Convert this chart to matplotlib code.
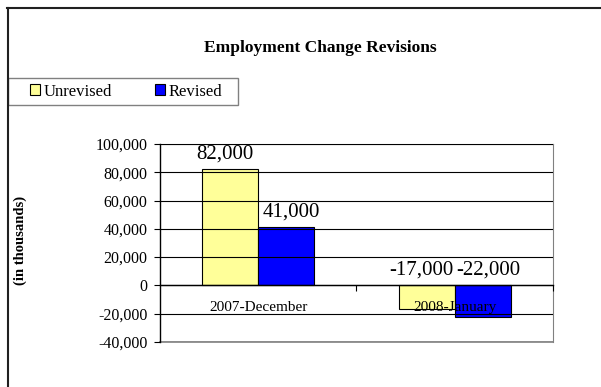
import numpy as np
import matplotlib.pyplot as plt
from matplotlib.lines import Line2D
from matplotlib.patches import Patch, Rectangle
from matplotlib.ticker import FuncFormatter, FixedLocator

categories = ["2007-December", "2008-January"]
unrevised = [82000, -17000]
revised = [41000, -22000]
series_names = ["Unrevised", "Revised"]
colors = ["#ffff99", "#0000ff"]

plt.rcParams['font.family'] = ['Liberation Serif', 'DejaVu Serif']

fig = plt.figure(figsize=(6.01, 3.87), dpi=100)
ax = fig.add_axes([0.2662, 0.1163, 0.9201 - 0.2662, 0.6279 - 0.1163])

x = np.arange(len(categories))
w = 0.285
b1 = ax.bar(x - w / 2, unrevised, w, color=colors[0], edgecolor="black", linewidth=0.8, zorder=1)
b2 = ax.bar(x + w / 2, revised, w, color=colors[1], edgecolor="black", linewidth=0.8, zorder=1)

# value labels sit above the bar, or just above zero for the negative ones;
# each series is nudged sideways so the pair doesn't collide
for bars, vals, dx in ((b1, unrevised, -4), (b2, revised, 4)):
    for rect, v in zip(bars, vals):
        ax.annotate(f"{v:,}", (rect.get_x() + rect.get_width() / 2, max(v, 0)),
                    xytext=(dx, 4), textcoords="offset points",
                    ha="center", va="bottom", fontsize=15, zorder=3)

ax.set_xlim(-0.5, 1.5)
ax.set_ylim(-40000, 100000)
ax.set_yticks(np.arange(-40000, 100001, 20000))
ax.yaxis.set_major_formatter(FuncFormatter(lambda v, p: f"{int(v):,}"))
ax.tick_params(axis="y", labelsize=11.5, length=4, width=0.8, pad=5)
ax.grid(axis="y", color="black", linewidth=0.8, zorder=0)
ax.set_axisbelow(False)

# category axis runs along zero
ax.spines["bottom"].set_position(("data", 0))
ax.spines["bottom"].set_linewidth(1.0)
ax.set_xticks(x)
ax.set_xticklabels(categories, fontsize=11)
ax.tick_params(axis="x", which="major", length=0, pad=11)
ax.xaxis.set_minor_locator(FixedLocator([0.5, 1.5]))
ax.tick_params(axis="x", which="minor", length=4, width=0.8, direction="out")
ax.spines["top"].set_color("#808080")
ax.spines["right"].set_color("#808080")
ax.spines["left"].set_linewidth(1.0)
ax.axhline(-40000, color="#808080", linewidth=1.2, clip_on=False)

fig.text(320 / 601, 1 - 48 / 387, "Employment Change Revisions",
         ha="center", va="center", fontsize=12.5, fontweight="bold")
fig.text(20 / 601, 1 - 240 / 387, "(in thousands)", rotation=90,
         ha="center", va="center", fontsize=10.5, fontweight="bold")

# legend box
fig.add_artist(Rectangle((8 / 601, 1 - 105 / 387), 230 / 601, 27 / 387,
                         transform=fig.transFigure, facecolor="white",
                         edgecolor="#808080", linewidth=1.0))
handles = [Patch(facecolor=c, edgecolor="black", linewidth=0.8) for c in colors]
fig.legend(handles, series_names, loc="center left", ncol=2,
           bbox_to_anchor=(30 / 601, 1 - 91.5 / 387),
           fontsize=12, handlelength=0.6, handleheight=0.6, handletextpad=0.2,
           borderaxespad=0, borderpad=0, frameon=False, columnspacing=2.6)

# outer chart frame
fig.add_artist(Line2D([7.5 / 601, 7.5 / 601], [1 - 8 / 387, 0], color="#202020", linewidth=1.5))
fig.add_artist(Line2D([7 / 601, 1], [1 - 8 / 387, 1 - 8 / 387], color="#202020", linewidth=1.5))

fig.savefig("out.png", dpi=100)
